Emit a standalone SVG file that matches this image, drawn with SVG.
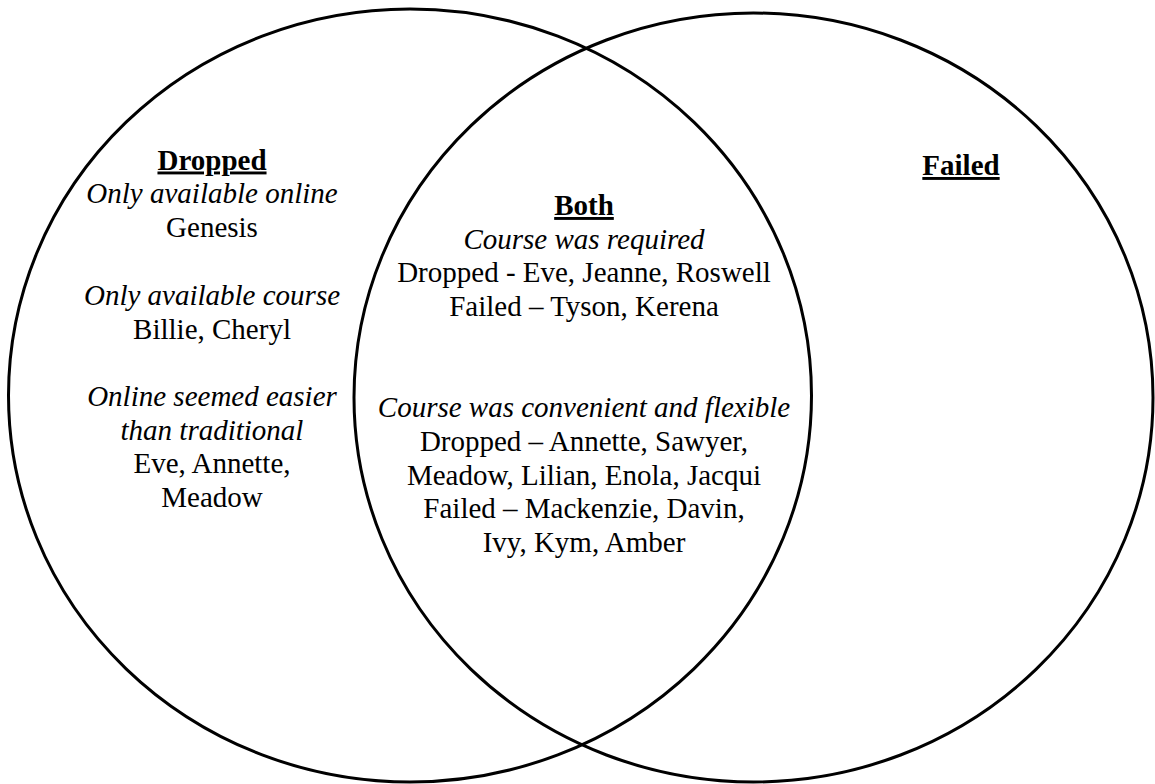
<svg xmlns="http://www.w3.org/2000/svg" width="1155" height="784" viewBox="0 0 1155 784">
<style>
.c{fill:none;stroke:#000;stroke-width:3}
text{font-family:"Liberation Serif","Times New Roman",serif;font-size:29px;fill:#000;text-anchor:middle}
.h{font-weight:bold;text-decoration:underline}
.i{font-style:italic}
</style>
<rect width="1155" height="784" fill="#fff"/>
<g id="dropped-set">
<ellipse class="c" cx="410" cy="395.5" rx="401.5" ry="386.5"/>
</g>
<g id="failed-set">
<ellipse class="c" cx="753.5" cy="397.5" rx="399.5" ry="384.5"/>
</g>
<g id="dropped-text">
<text x="212" y="169.5" class="h">Dropped</text>
<text x="212" y="203" class="i">Only available online</text>
<text x="212" y="237">Genesis</text>
<text x="212" y="305" class="i">Only available course</text>
<text x="212" y="339">Billie, Cheryl</text>
<text x="212" y="406" class="i">Online seemed easier</text>
<text x="212" y="439.5" class="i">than traditional</text>
<text x="212" y="473">Eve, Annette,</text>
<text x="212" y="506.5">Meadow</text>
</g>
<g id="both-text">
<text x="584" y="215" class="h">Both</text>
<text x="584" y="248.5" class="i">Course was required</text>
<text x="584" y="282.3">Dropped - Eve, Jeanne, Roswell</text>
<text x="584" y="315.8">Failed – Tyson, Kerena</text>
<text x="584" y="417" class="i">Course was convenient and flexible</text>
<text x="584" y="450.7">Dropped – Annette, Sawyer,</text>
<text x="584" y="484.5">Meadow, Lilian, Enola, Jacqui</text>
<text x="584" y="518.2">Failed – Mackenzie, Davin,</text>
<text x="584" y="552">Ivy, Kym, Amber</text>
</g>
<g id="failed-text">
<text x="961" y="175" class="h">Failed</text>
</g>
<g id="connectors"></g>
</svg>
